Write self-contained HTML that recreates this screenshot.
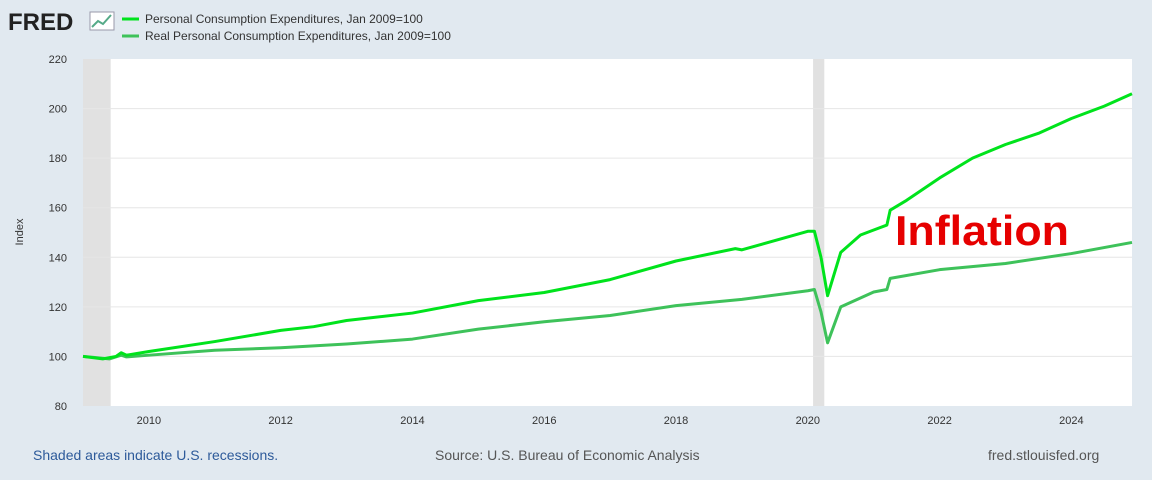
<!DOCTYPE html>
<html><head><meta charset="utf-8"><style>
body{margin:0;width:1152px;height:480px;background:#e1e9f0;font-family:"Liberation Sans",sans-serif;overflow:hidden}
</style></head><body>
<svg id="c" width="1152" height="480" style="position:absolute;left:0;top:0">
<text x="8" y="30" font-size="24" font-weight="bold" fill="#222">FRED</text>
<rect x="90" y="12" width="24" height="18" fill="#fff" stroke="#99a"/>
<polyline points="92,27 98,21 103,24 111,15" fill="none" stroke="#5a8" stroke-width="2"/>
<line x1="122" y1="19" x2="139" y2="19" stroke="#00e31c" stroke-width="3"/>
<text x="145" y="23" font-size="12" fill="#333">Personal Consumption Expenditures, Jan 2009=100</text>
<line x1="122" y1="36" x2="139" y2="36" stroke="#3ec25a" stroke-width="3"/>
<text x="145" y="40" font-size="12" fill="#333">Real Personal Consumption Expenditures, Jan 2009=100</text>
<rect x="83" y="59" width="1049" height="347" fill="#fff"/>
<g id="rec"></g><g id="grid"></g><g id="xt"></g>
<text transform="translate(23,232) rotate(-90)" font-size="11" fill="#333" text-anchor="middle">Index</text>
<g id="lines"></g>
<text x="895" y="245" font-size="42" font-weight="bold" fill="#e60000" textLength="174" lengthAdjust="spacingAndGlyphs">Inflation</text>
<text x="33" y="460" font-size="14" fill="#2d5a9a">Shaded areas indicate U.S. recessions.</text>
<text x="435" y="460" font-size="14" fill="#555">Source: U.S. Bureau of Economic Analysis</text>
<text x="988" y="460" font-size="14" fill="#555">fred.stlouisfed.org</text>
</svg>
<script>
const yTicks=[80,100,120,140,160,180,200,220];
const xTicks=[2010,2012,2014,2016,2018,2020,2022,2024];
const recessions=[[2009.0,2009.42],[2020.08,2020.25]];
const nomDates=[2009.0,2009.3,2009.5,2009.58,2009.66,2010,2011,2012,2012.5,2013,2014,2015,2016,2017,2018,2018.9,2019,2020,2020.1,2020.2,2020.3,2020.5,2020.8,2021,2021.2,2021.25,2021.5,2022,2022.5,2023,2023.5,2024,2024.5,2024.92];
const nomVals=[100,99,100,101.5,100.5,102,106,110.5,112,114.5,117.5,122.5,125.8,131,138.5,143.5,143,150.5,150.5,140,124.5,142,149,151,153,159,163,172,180,185.5,190,196,201,206];
const realDates=[2009.0,2009.4,2009.58,2009.66,2010,2011,2012,2013,2014,2015,2016,2017,2018,2019,2020,2020.1,2020.2,2020.3,2020.5,2021,2021.2,2021.25,2022,2023,2024,2024.92];
const realVals=[100,99,100.5,99.8,100.5,102.5,103.5,105,107,111,114,116.5,120.5,123,126.5,127,118,105.5,120,126,127,131.5,135,137.5,141.5,146];
const X=t=>83+(t-2009)*(1049/15.92);
const Y=v=>406-(v-80)*(347/140);
const NS="http://www.w3.org/2000/svg";
function mk(tag,attrs,parent,txt){const e=document.createElementNS(NS,tag);for(const k in attrs)e.setAttribute(k,attrs[k]);if(txt!==undefined)e.textContent=txt;document.getElementById(parent).appendChild(e);return e;}
recessions.forEach(r=>{const e=mk('rect',{x:X(r[0]),y:59,width:X(r[1])-X(r[0]),height:347,fill:'#e1e1e1'},'rec');

});
yTicks.forEach(v=>{if(v>80&&v<220){const l=mk('line',{x1:83,x2:1132,y1:Y(v),y2:Y(v),stroke:'#e6e6e6'},'grid');

}
const t=mk('text',{x:67,y:Y(v)+4,'font-size':11,fill:'#333','text-anchor':'end'},'grid',v);

});
xTicks.forEach(v=>{const t=mk('text',{x:X(v),y:424,'font-size':11,fill:'#333','text-anchor':'middle'},'xt',v);

});
function line(d,v,col,name){const p=mk('polyline',{points:d.map((t,i)=>X(t)+','+Y(v[i])).join(' '),fill:'none',stroke:col,'stroke-width':3,'stroke-linejoin':'round'},'lines');

}
line(realDates,realVals,'#3ec25a','series-real-pce');
line(nomDates,nomVals,'#00e31c','series-nominal-pce');
</script>
</body></html>
